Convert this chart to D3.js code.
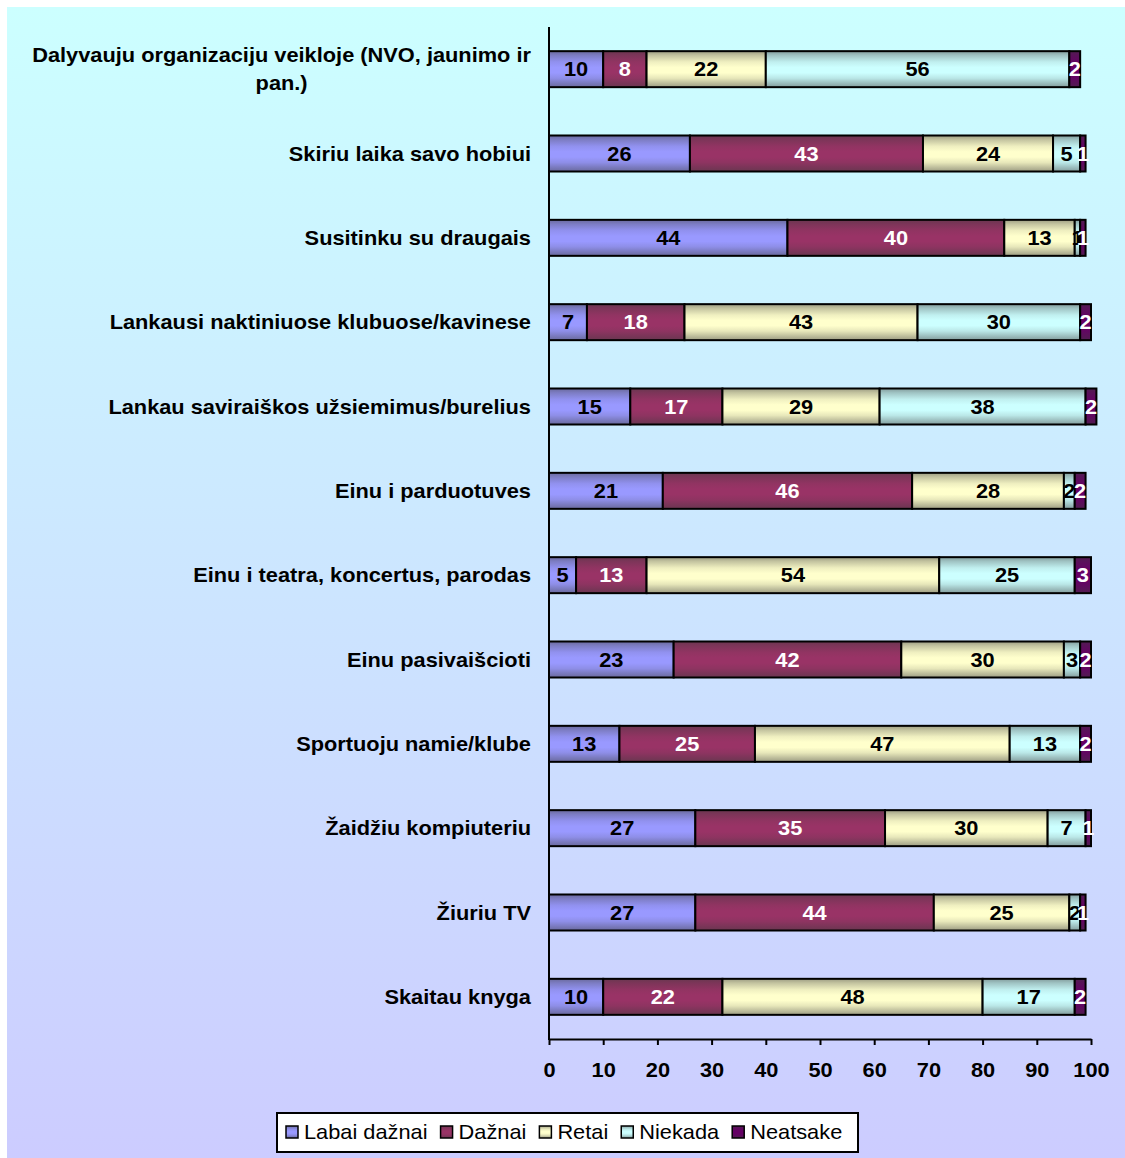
<!DOCTYPE html>
<html>
<head>
<meta charset="utf-8">
<script src="https://cdn.jsdelivr.net/npm/d3@7"></script>
<style>
  html, body { margin: 0; padding: 0; background: #ffffff; }
  svg { display: block; }
  text { font-family: "Liberation Sans", Arial, sans-serif; }
</style>
</head>
<body>
<svg id="chart" width="1125" height="1158"></svg>
<script>
// Activities (top to bottom)
const categories = [
  "Dalyvauju organizaciju veikloje (NVO, jaunimo ir|pan.)",
  "Skiriu laika savo hobiui",
  "Susitinku su draugais",
  "Lankausi naktiniuose klubuose/kavinese",
  "Lankau saviraiškos užsiemimus/burelius",
  "Einu i parduotuves",
  "Einu i teatra, koncertus, parodas",
  "Einu pasivaišcioti",
  "Sportuoju namie/klube",
  "Žaidžiu kompiuteriu",
  "Žiuriu TV",
  "Skaitau knyga"
];

const seriesNames = ["Labai dažnai", "Dažnai", "Retai", "Niekada", "Neatsake"];

// Percent values per series, one entry per activity
const labaiDaznai = [10, 26, 44, 7, 15, 21, 5, 23, 13, 27, 27, 10];
const daznai      = [8, 43, 40, 18, 17, 46, 13, 42, 25, 35, 44, 22];
const retai       = [22, 24, 13, 43, 29, 28, 54, 30, 47, 30, 25, 48];
const niekada     = [56, 5, 1, 30, 38, 2, 25, 3, 13, 7, 2, 17];
const neatsake    = [2, 1, 1, 2, 2, 2, 3, 2, 2, 1, 1, 2];

const xTicks = [0, 10, 20, 30, 40, 50, 60, 70, 80, 90, 100];

const seriesColors = ["#9999ff", "#993366", "#ffffcc", "#ccffff", "#660066"];
const labelColors  = ["#000000", "#ffffff", "#000000", "#000000", "#ffffff"];

// Text is drawn slightly wide
const STRETCH = 1.09;

const allSeries = [labaiDaznai, daznai, retai, niekada, neatsake];

const rows = categories.map((c, i) => {
  const r = { category: c };
  seriesNames.forEach((s, k) => { r[s] = allSeries[k][i]; });
  return r;
});

const stacked = d3.stack().keys(seriesNames)(rows);

const svg = d3.select("#chart");
const defs = svg.append("defs");

// Background panel with vertical gradient
const bg = defs.append("linearGradient").attr("id", "bgGrad")
  .attr("x1", 0).attr("y1", 0).attr("x2", 0).attr("y2", 1);
bg.append("stop").attr("offset", "0%").attr("stop-color", "#ccffff");
bg.append("stop").attr("offset", "100%").attr("stop-color", "#ccccff");

svg.append("rect")
  .attr("x", 7).attr("y", 7).attr("width", 1118).attr("height", 1151)
  .attr("fill", "url(#bgGrad)");

// Cylinder-like shading for each series
seriesColors.forEach((col, k) => {
  const g = defs.append("linearGradient").attr("id", "seg" + k)
    .attr("x1", 0).attr("y1", 0).attr("x2", 0).attr("y2", 1);
  const dark = d3.interpolateRgb(col, "#3a3a3a");
  [[0, 0.5], [0.12, 0.3], [0.3, 0.08], [0.45, 0], [0.6, 0], [0.75, 0.12], [0.9, 0.35], [1, 0.5]]
    .forEach(([o, t]) => g.append("stop").attr("offset", (o * 100) + "%").attr("stop-color", dark(t)));
});

const x = d3.scaleLinear().domain([0, 100]).range([549, 1091]);
const y = d3.scaleBand().domain(categories).range([27, 1039])
  .paddingInner(0.573).paddingOuter(0.2865);

// Bars
const layers = svg.append("g").selectAll("g").data(stacked).join("g")
  .attr("fill", (d, k) => "url(#seg" + k + ")");

layers.selectAll("rect").data(d => d).join("rect")
  .attr("x", d => x(d[0]))
  .attr("y", d => y(d.data.category))
  .attr("width", d => x(d[1]) - x(d[0]))
  .attr("height", y.bandwidth())
  .attr("stroke", "#000")
  .attr("stroke-width", 2);

// Value labels
svg.append("g").selectAll("g").data(stacked).join("g")
  .attr("fill", (d, k) => labelColors[k])
  .selectAll("g").data(d => d).join("g")
  .attr("transform", d => `translate(${(x(d[0]) + x(d[1])) / 2},${y(d.data.category) + y.bandwidth() / 2}) scale(${STRETCH},1)`)
  .append("text")
  .attr("dy", "0.36em")
  .attr("text-anchor", "middle")
  .attr("font-size", 20)
  .attr("font-weight", "bold")
  .text(d => d[1] - d[0]);

// Axes
const xAxis = svg.append("g").attr("transform", "translate(0,1039)")
  .call(d3.axisBottom(x).tickValues(xTicks).tickSize(6).tickPadding(18).tickSizeOuter(0));
xAxis.select(".domain").attr("stroke", "#000").attr("stroke-width", 2);
xAxis.selectAll(".tick line").attr("stroke", "#000").attr("stroke-width", 2);
xAxis.selectAll(".tick text")
  .attr("font-family", "'Liberation Sans', Arial, sans-serif")
  .attr("font-size", 20).attr("font-weight", "bold").attr("fill", "#000")
  .attr("transform", `scale(${STRETCH},1)`);

svg.append("line")
  .attr("x1", 549).attr("x2", 549).attr("y1", 27).attr("y2", 1040)
  .attr("stroke", "#000").attr("stroke-width", 2);

// Category labels (the first wraps onto two centred lines)
const catG = svg.append("g");
categories.forEach(c => {
  const lines = c.split("|");
  const cy = y(c) + y.bandwidth() / 2;
  const g = catG.append("g").attr("transform", `translate(531,${cy}) scale(${STRETCH},1)`);
  const t = g.append("text")
    .attr("font-size", 20).attr("font-weight", "bold").attr("fill", "#000");
  if (lines.length === 1) {
    t.attr("dy", "0.36em").attr("text-anchor", "end").text(c);
  } else {
    t.text(lines[0]);
    const w = t.node().getComputedTextLength();
    t.attr("text-anchor", "middle").text(null);
    lines.forEach((ln, j) => {
      t.append("tspan").attr("x", -w / 2)
        .attr("y", -14 + j * 28).attr("dy", "0.36em").text(ln);
    });
  }
});

// Legend
const lg = svg.append("g");
lg.append("rect").attr("x", 277).attr("y", 1113).attr("width", 581).attr("height", 39)
  .attr("fill", "#fff").attr("stroke", "#000").attr("stroke-width", 2);
let lx = 286;
seriesNames.forEach((s, k) => {
  lg.append("rect").attr("x", lx).attr("y", 1126).attr("width", 12).attr("height", 12)
    .attr("fill", "url(#seg" + k + ")").attr("stroke", "#000").attr("stroke-width", 1.5);
  const g = lg.append("g").attr("transform", `translate(${lx + 18},1132) scale(${STRETCH},1)`);
  const t = g.append("text").attr("dy", "0.36em")
    .attr("font-size", 20).attr("fill", "#000").text(s);
  lx += 18 + t.node().getComputedTextLength() * STRETCH + 13;
});
</script>
</body>
</html>
